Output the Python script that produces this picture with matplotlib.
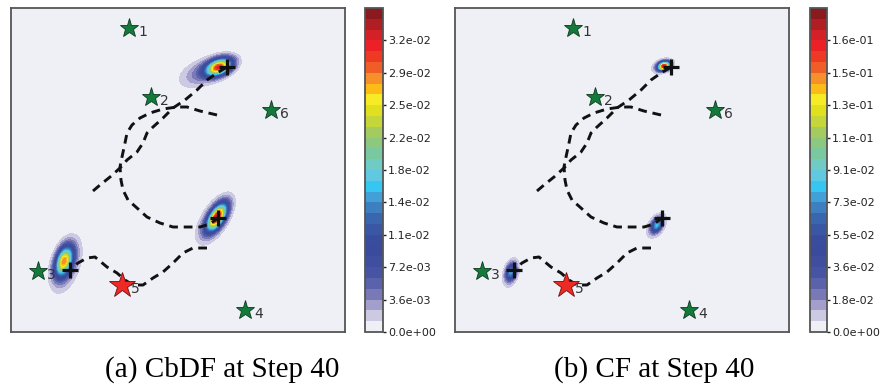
import numpy as np
import matplotlib
matplotlib.use('Agg')
import matplotlib.pyplot as plt
from matplotlib.colors import ListedColormap

# landmarks (x, y) in panel units, id labels; "5" is the red one
lmX = [118, 140, 27, 234, 111, 260]
lmY = [304, 235, 61, 22, 47, 222]
lmIds = ['1', '2', '3', '4', '5', '6']
redId = '5'

# robot trajectories (last point = current position, marked with +)
pathA_x = [82, 89, 99, 109, 116, 126, 132, 136, 142, 152, 162, 174, 186, 196, 206, 216]
pathA_y = [141, 147, 155, 164, 172, 180, 189, 199, 205, 214, 224, 232, 242, 252, 259, 265]
pathB_x = [206, 189, 176, 166, 152, 139, 129, 121, 116, 114, 111, 109, 110, 112, 117, 126, 136, 149, 162, 176, 189, 199, 207]
pathB_y = [217, 221, 225, 225, 223, 219, 214, 207, 199, 189, 175, 165, 152, 142, 132, 124, 115, 109, 105, 105, 105, 108, 114]
pathC_x = [196, 182, 172, 162, 152, 142, 132, 122, 114, 106, 96, 84, 76, 67, 59]
pathC_y = [84, 84, 79, 69, 60, 54, 47, 47, 52, 59, 65, 75, 74, 69, 62]

# belief components: centre x, centre y, sigma major, sigma minor, angle (deg), peak
cbdfX = [193, 208, 203, 206, 55, 53]
cbdfY = [260, 265, 112, 115, 67, 71]
cbdfSmaj = [16, 9, 16, 10, 17, 10]
cbdfSmin = [8, 5, 7.5, 4.5, 8, 5]
cbdfAng = [22, 22, 58, 58, 72, 72]
cbdfPeak = [0.0045, 0.029, 0.005, 0.029, 0.005, 0.024]

cfX = [207, 209, 201, 202, 56, 56]
cfY = [266, 266, 106, 107, 59, 60]
cfSmaj = [8, 4, 9, 5, 10, 5.5]
cfSmin = [4.5, 2.6, 5.5, 3, 5, 3]
cfAng = [20, 20, 60, 60, 75, 75]
cfPeak = [0.014, 0.155, 0.015, 0.066, 0.015, 0.062]

cbdfMax = 0.036
cfMax = 0.182
captions = ['(a) CbDF at Step 40', '(b) CF at Step 40']

bandColors = ['#eff0f6', '#ccc9e3', '#a29fcd', '#7a79b8', '#5a62ab', '#4753a3',
              '#404ea0', '#3a4a9c', '#3a4c9e', '#3a57a5', '#3a65af', '#3d7fc0',
              '#42a0d8', '#35c6f2', '#60c8e0', '#70cbc2', '#7ac8a0', '#8cc87e',
              '#a5ca5e', '#c5d63a', '#e0e01e', '#f6eb24', '#fcbb16', '#f6902a',
              '#f15d26', '#ee3a24', '#ec2027', '#d42027', '#b01e24', '#8b1a1f']
cmap = ListedColormap(bandColors)

W, H = 334, 324
gx, gy = np.meshgrid(np.linspace(0, W, 500), np.linspace(0, H, 485))


def density(cx, cy, smaj, smin, ang, peak):
    z = np.zeros_like(gx)
    for x0, y0, a, b, t, p in zip(cx, cy, smaj, smin, ang, peak):
        t = np.deg2rad(t)
        dx, dy = gx - x0, gy - y0
        u = dx * np.cos(t) + dy * np.sin(t)
        v = -dx * np.sin(t) + dy * np.cos(t)
        z += p * np.exp(-0.5 * ((u / a) ** 2 + (v / b) ** 2))
    return z


def drawPanel(ax, cax, z, zmax):
    levels = np.linspace(0, zmax, 31)
    cs = ax.contourf(gx, gy, np.clip(z, 0, zmax * 0.999), levels=levels, cmap=cmap)
    for px, py in [(pathA_x, pathA_y), (pathB_x, pathB_y), (pathC_x, pathC_y)]:
        ax.plot(px, py, '--', color='#111111', lw=2.1, dashes=(3, 2), zorder=3)
        ax.plot(px[-1], py[-1], '+', color='#111111', ms=12, mew=2.3, zorder=6)
    for x, y, t in zip(lmX, lmY, lmIds):
        if t == redId:
            ax.plot(x, y, '*', ms=19, mfc='#ee2a24', mec='#6a1010', mew=0.6, zorder=5)
        else:
            ax.plot(x, y, '*', ms=14, mfc='#147a3c', mec='#0b3a1c', mew=0.6, zorder=5)
        ax.text(x + 9, y - 4, t, fontsize=10, color='#333333', ha='left', va='center', zorder=7)
    ax.set_xlim(0, W)
    ax.set_ylim(0, H)
    ax.set_xticks([])
    ax.set_yticks([])
    ax.set_facecolor(bandColors[0])
    for s in ax.spines.values():
        s.set_color('#555555')
        s.set_linewidth(1.3)
    cb = plt.colorbar(cs, cax=cax, ticks=levels[:-1:3], format='%.1e')
    cb.outline.set_edgecolor('#555555')
    cb.outline.set_linewidth(1.3)
    cax.tick_params(labelsize=8, length=2.5, width=1, color='#222222', labelcolor='#222222', pad=1)


fig = plt.figure(figsize=(8.81, 3.91), dpi=100)
ax1 = fig.add_axes([11 / 881, 59 / 391, 334 / 881, 324 / 391])
cax1 = fig.add_axes([365 / 881, 59 / 391, 18 / 881, 324 / 391])
ax2 = fig.add_axes([455 / 881, 59 / 391, 334 / 881, 324 / 391])
cax2 = fig.add_axes([810 / 881, 59 / 391, 17 / 881, 324 / 391])

drawPanel(ax1, cax1, density(cbdfX, cbdfY, cbdfSmaj, cbdfSmin, cbdfAng, cbdfPeak), cbdfMax)
drawPanel(ax2, cax2, density(cfX, cfY, cfSmaj, cfSmin, cfAng, cfPeak), cfMax)

fig.text(222 / 881, 21 / 391, captions[0], family='Liberation Serif', fontsize=21,
         ha='center', va='center', color='black')
fig.text(654 / 881, 21 / 391, captions[1], family='Liberation Serif', fontsize=21,
         ha='center', va='center', color='black')

fig.savefig('out.png', dpi=100)
